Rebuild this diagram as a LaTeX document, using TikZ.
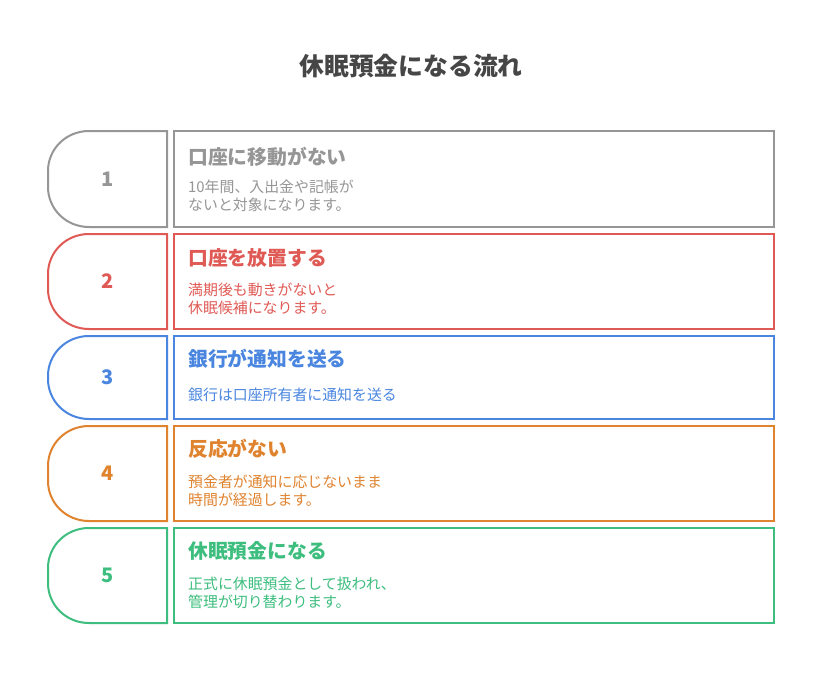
\documentclass[tikz,border=0pt]{standalone}
\usepackage{fontspec}
\setmainfont{Noto Sans CJK JP}
\definecolor{cgray}{HTML}{969696}
\definecolor{cred}{HTML}{E05A55}
\definecolor{cblue}{HTML}{4A86E0}
\definecolor{corange}{HTML}{E0832F}
\definecolor{cgreen}{HTML}{3DBE7E}
\definecolor{ctitle}{HTML}{464646}
\tikzset{
  frame/.style={line width=2pt},
  numtxt/.style={inner sep=0pt, font=\fontsize{20}{20}\selectfont\bfseries},
  headtxt/.style={inner sep=0pt, anchor=base west, font=\fontsize{19.8}{19.8}\selectfont\bfseries},
  desctxt/.style={inner sep=0pt, anchor=base west, font=\fontsize{14.9}{18}\selectfont},
}
% #1 id, #2 colour, #3 top, #4 bottom, #5 number, #6 heading, #7 heading baseline
\newcommand{\flowrow}[7]{%
  \draw[frame, #2] (167,#3) -- (89,#3)
     .. controls (66,#3) and (48,#3+18) .. (48,#3+40)
     -- (48,#4-40)
     .. controls (48,#4-18) and (66,#4) .. (89,#4)
     -- (167,#4) -- cycle;
  \node[frame, draw=#2, rectangle, inner sep=0pt, outer sep=0pt, minimum width=600pt, minimum height=#4-#3, anchor=north west] (box#1) at (174,#3) {};
  \node[numtxt, text=#2] (num#1) at (108,{(#3+#4)/2}) {#5};
  \node[headtxt, text=#2] (head#1) at (188,#7) {#6};
}
\begin{document}
\begin{tikzpicture}[x=1pt,y=-1pt]
\useasboundingbox (0,0) rectangle (822,696);
\fill[white] (0,0) rectangle (822,696);
\node[inner sep=0pt, anchor=base, font=\fontsize{24.8}{24.8}\selectfont\bfseries, text=ctitle] (title) at (411,75) {休眠預金になる流れ};

\flowrow{1}{cgray}{131}{227}{1}{口座に移動がない}{164}
\node[desctxt, text=cgray] (d1a) at (188,192.5) {10年間、入出金や記帳が};
\node[desctxt, text=cgray] (d1b) at (188,210.5) {ないと対象になります。};

\flowrow{2}{cred}{234}{329}{2}{口座を放置する}{265}
\node[desctxt, text=cred] (d2a) at (188,295.5) {満期後も動きがないと};
\node[desctxt, text=cred] (d2b) at (188,313.5) {休眠候補になります。};

\flowrow{3}{cblue}{336}{419}{3}{銀行が通知を送る}{366}
\node[desctxt, text=cblue] (d3a) at (188,400.5) {銀行は口座所有者に通知を送る};

\flowrow{4}{corange}{426}{521}{4}{反応がない}{456}
\node[desctxt, text=corange] (d4a) at (188,487.5) {預金者が通知に応じないまま};
\node[desctxt, text=corange] (d4b) at (188,505) {時間が経過します。};

\flowrow{5}{cgreen}{528}{623}{5}{休眠預金になる}{558}
\node[desctxt, text=cgreen] (d5a) at (188,589.5) {正式に休眠預金として扱われ、};
\node[desctxt, text=cgreen] (d5b) at (188,607.5) {管理が切り替わります。};
\end{tikzpicture}
\end{document}
